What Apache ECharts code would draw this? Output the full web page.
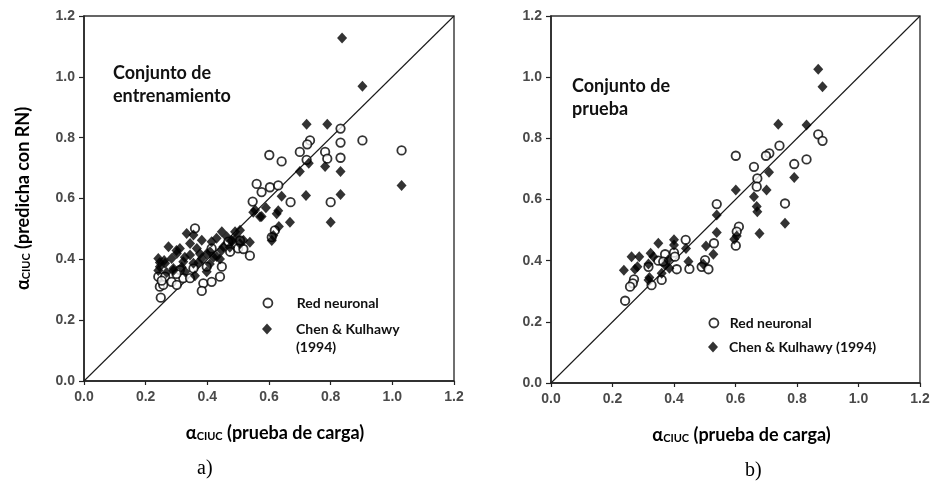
<!DOCTYPE html>
<html>
<head>
<meta charset="utf-8">
<script src="https://cdn.jsdelivr.net/npm/echarts@6/dist/echarts.min.js"></script>
<style>
html,body{margin:0;padding:0;background:#fff;}
#chart{width:936px;height:492px;}
</style>
</head>
<body>
<div id="chart"></div>
<script>
// ---- data (x = α_CIUC prueba de carga, y = α_CIUC predicha) ----
const axisTicks = [0, 0.2, 0.4, 0.6, 0.8, 1.0, 1.2];
const identityLine = [[0, 0], [1.2, 1.2]];

// a) Conjunto de entrenamiento
const trainNN = [
  [0.832,0.830],[0.733,0.791],[0.724,0.778],[0.903,0.791],[1.03,0.758],[0.601,0.743],
  [0.641,0.722],[0.70,0.753],[0.782,0.753],[0.789,0.731],[0.832,0.784],[0.832,0.734],
  [0.722,0.727],[0.56,0.648],[0.576,0.621],[0.603,0.637],[0.63,0.643],[0.547,0.590],
  [0.67,0.588],[0.80,0.588],[0.619,0.495],[0.609,0.473],[0.538,0.412],
  [0.360,0.502],[0.249,0.274],[0.246,0.310],[0.257,0.316],[0.241,0.343],[0.263,0.343],
  [0.284,0.326],[0.301,0.316],[0.322,0.338],[0.344,0.338],[0.387,0.321],[0.382,0.296],
  [0.414,0.326],[0.441,0.343],[0.398,0.376],[0.447,0.376],[0.474,0.425],[0.500,0.436],
  [0.468,0.458],[0.414,0.436],[0.311,0.365],[0.355,0.370],[0.252,0.330],[0.30,0.352],
  [0.506,0.462],[0.517,0.434]
];
const trainCK = [
  [0.837,1.128],[0.903,0.969],[0.722,0.844],[0.789,0.844],[0.729,0.716],[0.782,0.705],
  [0.70,0.689],[0.832,0.689],[1.03,0.643],[0.641,0.607],[0.72,0.610],[0.832,0.613],
  [0.549,0.555],[0.576,0.541],[0.63,0.56],[0.625,0.55],[0.668,0.522],[0.80,0.522],
  [0.632,0.508],[0.614,0.478],[0.609,0.462],[0.59,0.57],
  [0.274,0.441],[0.241,0.403],[0.246,0.376],[0.284,0.403],[0.311,0.436],[0.333,0.485],
  [0.355,0.480],[0.382,0.463],[0.366,0.436],[0.344,0.414],[0.322,0.392],[0.290,0.370],
  [0.355,0.387],[0.382,0.403],[0.409,0.425],[0.414,0.458],[0.447,0.491],[0.463,0.474],
  [0.490,0.491],[0.506,0.496],[0.517,0.463],[0.452,0.441],[0.430,0.409],[0.555,0.562],
  [0.571,0.540],[0.398,0.359],[0.328,0.359],[0.263,0.387],[0.301,0.419],[0.430,0.469],
  [0.479,0.458],[0.344,0.452],[0.246,0.39],[0.26,0.396],[0.30,0.429],[0.327,0.407],
  [0.317,0.374],[0.36,0.346],[0.371,0.39],[0.398,0.418],[0.42,0.407],[0.441,0.401],
  [0.495,0.473],[0.538,0.456],[0.479,0.462],[0.446,0.429],[0.408,0.385],[0.376,0.418],
  [0.268,0.357],[0.473,0.44],[0.506,0.451],[0.241,0.363],[0.29,0.363]
];

// b) Conjunto de prueba
const testNN = [
  [0.869,0.813],[0.883,0.792],[0.743,0.776],[0.710,0.751],[0.699,0.743],[0.601,0.743],
  [0.831,0.731],[0.791,0.716],[0.660,0.707],[0.671,0.669],[0.669,0.642],[0.761,0.587],
  [0.539,0.585],[0.611,0.511],[0.604,0.495],[0.601,0.449],[0.530,0.457],[0.501,0.402],
  [0.438,0.468],[0.400,0.426],[0.371,0.421],[0.349,0.400],[0.403,0.413],[0.409,0.372],
  [0.450,0.373],[0.490,0.380],[0.512,0.372],[0.360,0.337],[0.327,0.320],[0.270,0.339],
  [0.266,0.326],[0.257,0.315],[0.241,0.269],[0.317,0.380],[0.365,0.397]
];
const testCK = [
  [0.869,1.026],[0.883,0.969],[0.739,0.846],[0.831,0.844],[0.709,0.689],[0.791,0.672],
  [0.601,0.631],[0.660,0.609],[0.701,0.631],[0.669,0.577],[0.671,0.560],[0.539,0.549],
  [0.761,0.522],[0.678,0.489],[0.539,0.492],[0.604,0.481],[0.596,0.470],[0.504,0.448],
  [0.439,0.440],[0.400,0.468],[0.400,0.451],[0.349,0.457],[0.528,0.421],[0.447,0.397],
  [0.495,0.389],[0.381,0.402],[0.371,0.386],[0.324,0.424],[0.317,0.389],[0.262,0.413],
  [0.287,0.413],[0.273,0.372],[0.281,0.380],[0.237,0.369],[0.320,0.345],[0.317,0.337],
  [0.360,0.359],[0.385,0.375],[0.333,0.413]
];

const nameNN = 'Red neuronal';
const nameCK = 'Chen & Kulhawy (1994)';

// ---- styling ----
const labelFont = 'Lato';
const tickLabel = {fontFamily:'Liberation Sans', fontSize:14, fontWeight:'bold', color:'#4a4a4a', margin:9,
  formatter: v => v.toFixed(1)};
const richName = {
  a:{fontFamily:labelFont, fontSize:18, fontWeight:'bold', color:'#000', verticalAlign:'bottom', lineHeight:22},
  s:{fontFamily:labelFont, fontSize:11, fontWeight:'bold', color:'#000', verticalAlign:'bottom', lineHeight:15}
};
const nnStyle = {color:'#fff', borderColor:'#000', borderWidth:1.8};
const ckStyle = {color:'#000', borderWidth:0};
const diamondIcon = 'path://M5,0L10,5.5L5,11L0,5.5Z';

function makeX(idx){
  return {
    type:'value', gridIndex:idx, min:axisTicks[0], max:axisTicks[axisTicks.length-1], interval:0.2,
    axisLine:{show:true, onZero:false, lineStyle:{color:'#222', width:1.5}},
    axisTick:{show:true, inside:false, length:4, lineStyle:{color:'#222', width:1.2}},
    axisLabel:tickLabel, splitLine:{show:false},
    name:'{a|α}{s|CIUC}{a| (prueba de carga)}', nameLocation:'middle', nameGap:39,
    nameTextStyle:{rich:richName, padding:[0,0,0,12]}
  };
}
function makeY(idx, withName){
  const y = {
    type:'value', gridIndex:idx, min:axisTicks[0], max:axisTicks[axisTicks.length-1], interval:0.2,
    axisLine:{show:true, onZero:false, lineStyle:{color:'#222', width:1.5}},
    axisTick:{show:true, inside:false, length:5, lineStyle:{color:'#222', width:1.2}},
    axisLabel:tickLabel, splitLine:{show:false}
  };
  if (withName){
    y.name = '{a|α}{s|CIUC}{a| (predicha con RN)}';
    y.nameLocation = 'middle';
    y.nameGap = 52;
    y.nameTextStyle = {rich:richName};
  }
  return y;
}
function lineSeries(idx){
  return {type:'line', xAxisIndex:idx, yAxisIndex:idx, data:identityLine, symbol:'none',
    lineStyle:{color:'#1a1a1a', width:1.1}, silent:true, z:1};
}
function nnSeries(idx, data){
  return {type:'scatter', name:nameNN, xAxisIndex:idx, yAxisIndex:idx, data:data,
    symbol:'circle', symbolSize:8.5, itemStyle:nnStyle, z:2};
}
function ckSeries(idx, data){
  return {type:'scatter', name:nameCK, xAxisIndex:idx, yAxisIndex:idx, data:data,
    symbol:'diamond', symbolSize:[10,11], itemStyle:ckStyle, z:3};
}
const legendText = {fontFamily:labelFont, fontSize:14, fontWeight:'bold', color:'#111', lineHeight:18};
const legendRich = {
  e:{fontFamily:labelFont, fontSize:14, lineHeight:18},
  g:{fontFamily:labelFont, fontSize:14, lineHeight:18, width:9},
  h:{fontFamily:labelFont, fontSize:14, lineHeight:18, width:2},
  t:{fontFamily:labelFont, fontSize:14, fontWeight:'bold', color:'#111', lineHeight:18}
};
const richText = Object.assign({}, legendText, {rich:legendRich});

const option = {
  animation:false,
  grid:[
    {left:84, top:16, width:370, height:365, show:true, borderColor:'#333', borderWidth:1.4, backgroundColor:'transparent'},
    {left:551, top:16, width:369, height:367, show:true, borderColor:'#333', borderWidth:1.4, backgroundColor:'transparent'}
  ],
  xAxis:[makeX(0), makeX(1)],
  yAxis:[makeY(0, true), makeY(1, false)],
  title:[
    {text:'Conjunto de\nentrenamiento', left:113, top:62, padding:0,
      textStyle:{fontFamily:labelFont, fontWeight:'bold', fontSize:18, lineHeight:23, color:'#111'}},
    {text:'Conjunto de\nprueba', left:572, top:75, padding:0,
      textStyle:{fontFamily:labelFont, fontWeight:'bold', fontSize:18, lineHeight:23, color:'#111'}},
    {text:'a)', left:197, top:459, padding:0,
      textStyle:{fontFamily:'Liberation Serif', fontWeight:'normal', fontSize:20, color:'#000'}},
    {text:'b)', left:745, top:461, padding:0,
      textStyle:{fontFamily:'Liberation Serif', fontWeight:'normal', fontSize:20, color:'#000'}}
  ],
  legend:[
    {data:[nameNN], orient:'vertical', left:262.5, top:294, padding:0, itemWidth:29.5, itemHeight:9,
      selectedMode:false, itemStyle:nnStyle, icon:'circle',
      formatter: n => '{g| }{t|' + n + '}', textStyle:richText},
    {data:[nameCK], orient:'vertical', left:262, top:302, padding:0, itemWidth:30, itemHeight:11,
      selectedMode:false, itemStyle:ckStyle, icon:diamondIcon, symbolKeepAspect:true,
      formatter: () => '{e| }\n{g| }{t|Chen & Kulhawy}\n{g| }{t|(1994)}', textStyle:richText},
    {data:[nameNN], orient:'vertical', left:708.5, top:314, padding:0, itemWidth:17.5, itemHeight:9,
      selectedMode:false, itemStyle:nnStyle, icon:'circle',
      formatter: n => '{h| }{t|' + n + '}', textStyle:richText},
    {data:[nameCK], orient:'vertical', left:708, top:338, padding:0, itemWidth:18, itemHeight:11,
      selectedMode:false, itemStyle:ckStyle, icon:diamondIcon, symbolKeepAspect:true,
      formatter: n => '{h| }{t|' + n + '}', textStyle:richText}
  ],
  series:[
    lineSeries(0), nnSeries(0, trainNN), ckSeries(0, trainCK),
    lineSeries(1), nnSeries(1, testNN), ckSeries(1, testCK)
  ]
};
const chart = echarts.init(document.getElementById('chart'), null, {renderer:'canvas'});
chart.setOption(option);
</script>
</body>
</html>
